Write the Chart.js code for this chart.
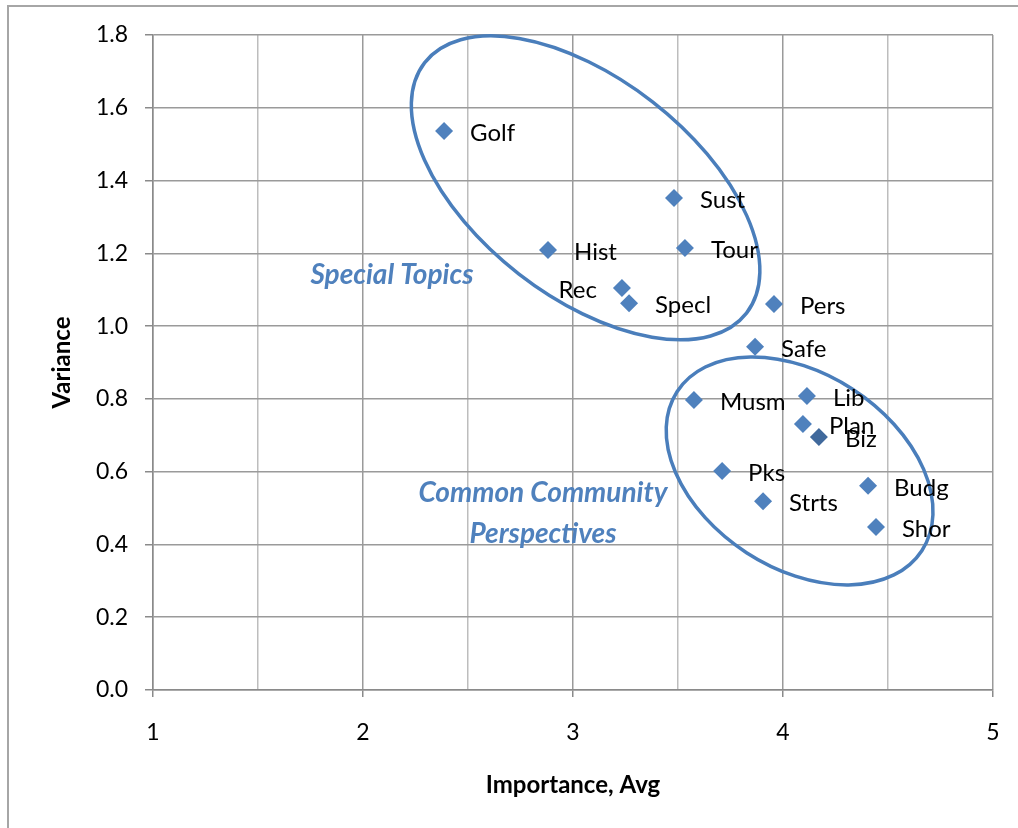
<!DOCTYPE html>
<html>
<head>
<meta charset="utf-8">
<script src="https://cdn.jsdelivr.net/npm/chart.js@4.4.1/dist/chart.umd.min.js"></script>
<style>
  html, body { margin: 0; padding: 0; background: #fff; overflow: hidden; }
  #frame { position: absolute; left: 7px; top: 5px; width: 1200px; height: 1000px;
           border-left: 2px solid #a6a6a6; border-top: 2px solid #a6a6a6; }
  #c { position: absolute; left: 0; top: 0; }
</style>
</head>
<body>
<div id="frame"></div>
<canvas id="c" width="1018" height="828"></canvas>
<script>
// ---- data ----
const names      = ['Golf','Sust','Hist','Tour','Rec','Specl','Pers','Safe','Musm','Lib','Plan','Biz','Pks','Strts','Budg','Shor'];
const importance = [2.386, 3.481, 2.881, 3.533, 3.233, 3.267, 3.957, 3.867, 3.576, 4.114, 4.095, 4.171, 3.710, 3.905, 4.405, 4.443];
const variance   = [1.536, 1.352, 1.209, 1.215, 1.105, 1.063, 1.061, 0.943, 0.797, 0.808, 0.731, 0.695, 0.602, 0.519, 0.561, 0.448];
const xTitle = 'Importance, Avg';
const yTitle = 'Variance';
const groupNotes = [
  { lines: ['Special Topics'], x: 2.138, y: 1.140 },
  { lines: ['Common Community', 'Perspectives'], x: 2.857, y: 0.541 }
];
const ellipses = [
  { cx: 3.060, cy: 1.380, rx: 0.971, ry: 0.519, angle: 37.9 },
  { cx: 4.079, cy: 0.602, rx: 0.695, ry: 0.464, angle: 33 }
];
const leftLabels = ['Rec'];

const FONT = 'Lato, "Open Sans", sans-serif';
const BLUE = '#4f81bd';

const overlay = {
  id: 'overlay',
  afterDatasetsDraw(chart) {
    const ctx = chart.ctx;
    const xs = chart.scales.x, ys = chart.scales.y;
    const unit = xs.getPixelForValue(1) - xs.getPixelForValue(0);
    ctx.save();
    // ellipses
    ctx.strokeStyle = '#4a7ebb';
    ctx.lineWidth = 3.5;
    ellipses.forEach(e => {
      ctx.beginPath();
      ctx.ellipse(xs.getPixelForValue(e.cx), ys.getPixelForValue(e.cy),
                  e.rx * unit, e.ry * unit, e.angle * Math.PI / 180, 0, Math.PI * 2);
      ctx.stroke();
    });
    // point labels
    ctx.fillStyle = '#000';
    ctx.font = '24px ' + FONT;
    ctx.textBaseline = 'middle';
    const meta = chart.getDatasetMeta(0);
    meta.data.forEach((pt, i) => {
      const n = names[i];
      if (leftLabels.includes(n)) {
        ctx.textAlign = 'right';
        ctx.fillText(n, pt.x - 25, pt.y + 2);
      } else {
        ctx.textAlign = 'left';
        ctx.fillText(n, pt.x + 26, pt.y + 2);
      }
    });
    // group notes
    ctx.fillStyle = BLUE;
    ctx.font = 'italic bold 28px ' + FONT;
    ctx.textAlign = 'center';
    groupNotes.forEach(g => {
      const px = xs.getPixelForValue(g.x), py = ys.getPixelForValue(g.y);
      g.lines.forEach((l, k) => ctx.fillText(l, px, py + k * 41));
    });
    ctx.restore();
  }
};

new Chart(document.getElementById('c'), {
  type: 'scatter',
  data: {
    datasets: [{
      data: names.map((n, i) => ({ x: importance[i], y: variance[i] })),
      pointStyle: 'rectRot',
      pointRadius: 9,
      pointHoverRadius: 9,
      borderWidth: 0,
      backgroundColor: ctx => names[ctx.dataIndex] === 'Biz' ? '#40699c' : BLUE,
      borderColor: ctx => names[ctx.dataIndex] === 'Biz' ? '#40699c' : BLUE
    }]
  },
  options: {
    responsive: false,
    animation: false,
    devicePixelRatio: 1,
    events: [],
    layout: { padding: { top: 35, right: 25, left: 0, bottom: 0 } },
    plugins: { legend: { display: false }, tooltip: { enabled: false } },
    scales: {
      x: {
        type: 'linear', min: 1, max: 5,
        afterFit: s => { s.height = 138; },
        ticks: {
          stepSize: 0.5, padding: 12, maxRotation: 0, autoSkip: false,
          color: '#000', font: { family: FONT, size: 23, lineHeight: 2.087 },
          callback: v => Number.isInteger(v) ? String(v) : ''
        },
        grid: {
          tickLength: 7, lineWidth: 1.5,
          color: c => (c.tick && Number.isInteger(c.tick.value)) ? '#9a9a9a' : '#bdbdbd',
          tickColor: c => (c.tick && Number.isInteger(c.tick.value)) ? '#8a8a8a' : 'rgba(0,0,0,0)'
        },
        border: { color: '#8a8a8a', width: 1.5 },
        title: { display: true, text: xTitle, color: '#000',
                 font: { family: FONT, size: 24, weight: 'bold' },
                 padding: { top: 0, bottom: 28.6 } }
      },
      y: {
        type: 'linear', min: 0, max: 1.8,
        afterFit: s => { s.width = 153; },
        ticks: {
          stepSize: 0.2, padding: 17,
          color: '#000', font: { family: FONT, size: 23 },
          callback: v => v.toFixed(1)
        },
        grid: { tickLength: 8, lineWidth: 1.5, color: '#9a9a9a', tickColor: '#8a8a8a' },
        border: { color: '#8a8a8a', width: 1.5 },
        title: { display: true, text: yTitle, color: '#000',
                 font: { family: FONT, size: 24, weight: 'bold' },
                 padding: { top: 47.6, bottom: 0 } }
      }
    }
  },
  plugins: [overlay]
});
</script>
</body>
</html>
